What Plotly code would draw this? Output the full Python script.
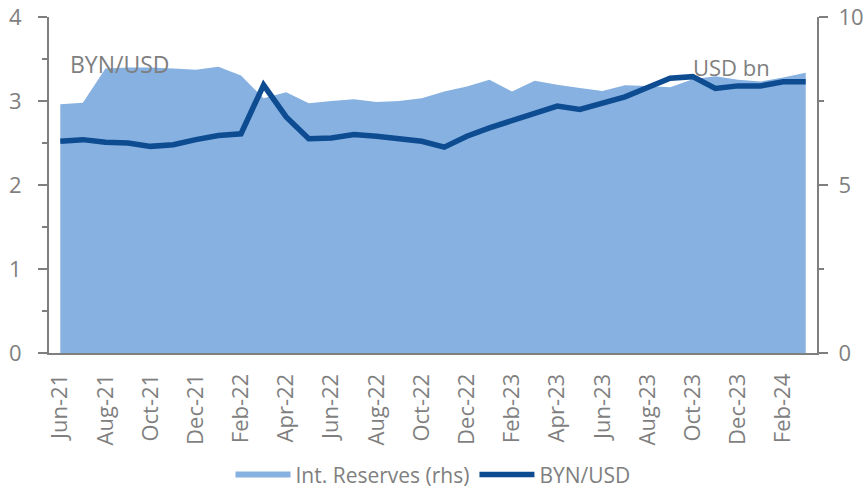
import plotly.graph_objects as go

months = ['Jun-21', 'Jul-21', 'Aug-21', 'Sep-21', 'Oct-21', 'Nov-21', 'Dec-21',
          'Jan-22', 'Feb-22', 'Mar-22', 'Apr-22', 'May-22', 'Jun-22', 'Jul-22',
          'Aug-22', 'Sep-22', 'Oct-22', 'Nov-22', 'Dec-22', 'Jan-23', 'Feb-23',
          'Mar-23', 'Apr-23', 'May-23', 'Jun-23', 'Jul-23', 'Aug-23', 'Sep-23',
          'Oct-23', 'Nov-23', 'Dec-23', 'Jan-24', 'Feb-24', 'Mar-24']

byn_usd = [2.52, 2.54, 2.51, 2.50, 2.46, 2.48, 2.54, 2.59, 2.61, 3.19, 2.81, 2.55,
           2.56, 2.60, 2.58, 2.55, 2.52, 2.45, 2.58, 2.68, 2.77, 2.86, 2.94, 2.90,
           2.98, 3.05, 3.16, 3.27, 3.29, 3.15, 3.18, 3.18, 3.23, 3.23]

reserves = [7.40, 7.45, 8.47, 8.50, 8.50, 8.47, 8.43, 8.52, 8.26, 7.58, 7.76, 7.43,
            7.50, 7.55, 7.47, 7.50, 7.58, 7.78, 7.93, 8.13, 7.78, 8.10, 7.98, 7.89,
            7.80, 7.97, 7.95, 7.91, 8.15, 8.24, 8.13, 8.08, 8.20, 8.34]

x_tick_labels = months[::2]
left_ticks = [0, 1, 2, 3, 4]
right_ticks = [0, 5, 10]

GRAY = '#7f7f7f'
FONT = 'Open Sans'
n = len(months)

fig = go.Figure()
fig.add_trace(go.Scatter(
    x=months, y=reserves, name='Int. Reserves (rhs)', mode='none',
    fill='tozeroy', fillcolor='#86b1e1', yaxis='y'))
fig.add_trace(go.Scatter(
    x=months, y=byn_usd, name='BYN/USD', mode='lines',
    line=dict(color='#0e4c92', width=5.5), yaxis='y2'))

fig.update_layout(
    width=865, height=489,
    margin=dict(l=49, r=48, t=17, b=136, autoexpand=False),
    paper_bgcolor='white', plot_bgcolor='white',
    font=dict(family=FONT, color=GRAY, size=20),
    showlegend=True,
    legend=dict(orientation='h', x=0.5, xanchor='center', y=-0.363, yanchor='middle',
                font=dict(size=21, color=GRAY), itemwidth=55, traceorder='normal'),
    xaxis=dict(type='category', range=[-0.5, n - 0.5], tickmode='array',
               tickvals=x_tick_labels, ticktext=x_tick_labels, tickangle=-90,
               ticks='', showline=True, linecolor=GRAY, linewidth=2,
               showgrid=False, zeroline=False, ticklabelstandoff=10,
               automargin=False, tickfont=dict(size=22, color=GRAY)),
    xaxis2=dict(overlaying='x', anchor='y', side='bottom', range=[-0.5, n - 0.5],
                tickmode='array', tickvals=[i - 0.5 for i in range(0, n + 1, 2)],
                ticks='outside', ticklen=10, tickwidth=2, tickcolor=GRAY,
                showticklabels=False, showgrid=False, zeroline=False, showline=False,
                automargin=False),
    yaxis=dict(side='right', range=[0, 10], tickmode='array', tickvals=right_ticks,
               ticks='outside', ticklen=9, tickwidth=2, tickcolor=GRAY,
               minor=dict(tickmode='array', tickvals=[2.5, 7.5], ticks='outside',
                          ticklen=5, tickwidth=2, tickcolor=GRAY),
               showline=True, linecolor=GRAY, linewidth=2, showgrid=False,
               zeroline=False, ticklabelstandoff=6, automargin=False,
               ticklabeloverflow='allow',
               tickfont=dict(size=22, color=GRAY)),
    yaxis2=dict(overlaying='y', side='left', range=[0, 4], tickmode='array',
                tickvals=left_ticks, ticks='outside', ticklen=9, tickwidth=2,
                tickcolor=GRAY,
                minor=dict(tickmode='array', tickvals=[0.5, 1.5, 2.5, 3.5],
                           ticks='outside', ticklen=5, tickwidth=2, tickcolor=GRAY),
                showline=True, linecolor=GRAY, linewidth=2, showgrid=False,
                zeroline=False, ticklabelstandoff=12, automargin=False,
                ticklabeloverflow='allow',
                tickfont=dict(size=22, color=GRAY)),
    annotations=[
        dict(text='BYN/USD', xref='paper', yref='paper', x=0.0247, y=0.86,
             xanchor='left', yanchor='middle', showarrow=False,
             font=dict(size=23, color=GRAY, family=FONT)),
        dict(text='USD bn', xref='paper', yref='paper', x=0.836, y=0.851,
             xanchor='left', yanchor='middle', showarrow=False,
             font=dict(size=22, color=GRAY, family=FONT)),
    ],
)

fig.write_html('out.html', config={'displayModeBar': False},
               post_script="document.body.style.margin='0';")
